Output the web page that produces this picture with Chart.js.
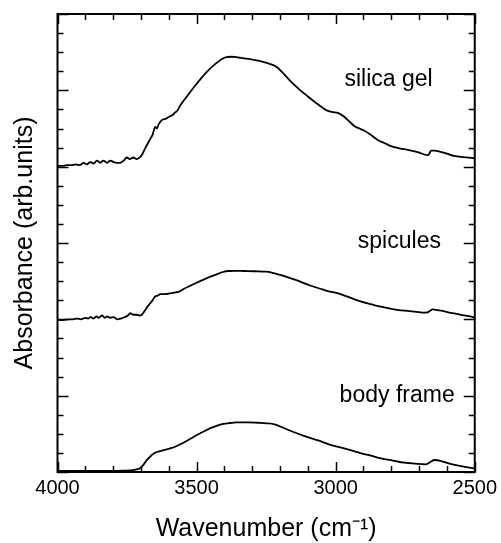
<!DOCTYPE html>
<html>
<head>
<meta charset="utf-8">
<script src="https://cdn.jsdelivr.net/npm/chart.js@4.4.1/dist/chart.umd.min.js"></script>
<style>
html, body { margin: 0; padding: 0; background: #fff; }
</style>
</head>
<body>
<canvas id="myChart" width="501" height="543"></canvas>
<script>
// wavenumber (cm-1) and absorbance (curves are offset by the plot itself)
const silicaWn = [
  4000, 3985, 3966, 3950, 3935, 3920, 3906, 3895, 3882, 3870,
  3858, 3846, 3835, 3822, 3810, 3798, 3786, 3775, 3762, 3751,
  3740, 3728, 3715, 3705, 3697, 3685, 3676, 3667, 3658, 3649,
  3643, 3637, 3625, 3610, 3595, 3585, 3577, 3568, 3559, 3535,
  3499, 3464, 3428, 3398, 3375, 3350, 3330, 3308, 3280, 3248,
  3213, 3190, 3160, 3130, 3100, 3065, 3028, 3010, 2992, 2968,
  2950, 2932, 2915, 2897, 2875, 2849, 2825, 2801, 2770, 2741,
  2705, 2669, 2662, 2657, 2645, 2633, 2600, 2574, 2540, 2500
];
const silicaAbs = [
  4.01, 4.01, 4.02, 4.02, 4.03, 4.02, 4.05, 4.03, 4.06, 4.04,
  4.08, 4.05, 4.08, 4.05, 4.08, 4.06, 4.05, 4.05, 4.08, 4.12,
  4.10, 4.12, 4.10, 4.12, 4.15, 4.24, 4.30, 4.36, 4.42, 4.52,
  4.50, 4.55, 4.61, 4.63, 4.66, 4.68, 4.71, 4.74, 4.80, 4.92,
  5.09, 5.24, 5.36, 5.43, 5.44, 5.43, 5.42, 5.41, 5.39, 5.36,
  5.31, 5.23, 5.11, 5.01, 4.92, 4.82, 4.73, 4.715, 4.705, 4.65,
  4.59, 4.53, 4.50, 4.47, 4.42, 4.35, 4.31, 4.27, 4.24, 4.22,
  4.19, 4.15, 4.18, 4.21, 4.21, 4.205, 4.17, 4.14, 4.125, 4.11
];

const spiculesWn = [
  4000, 3980, 3960, 3945, 3930, 3915, 3900, 3890, 3882, 3870,
  3860, 3852, 3840, 3830, 3822, 3810, 3798, 3786, 3772, 3757,
  3747, 3739, 3727, 3715, 3705, 3697, 3685, 3676, 3667, 3658,
  3649, 3640, 3631, 3615, 3595, 3580, 3565, 3545, 3523, 3500,
  3475, 3450, 3428, 3405, 3386, 3360, 3332, 3290, 3248, 3220,
  3180, 3136, 3090, 3040, 3010, 2980, 2945, 2908, 2870, 2837,
  2795, 2753, 2715, 2675, 2665, 2651, 2640, 2621, 2580, 2545, 2513, 2500
];
const spiculesAbs = [
  1.99, 1.99, 2.00, 2.00, 2.01, 2.00, 2.02, 2.01, 2.03, 2.01,
  2.04, 2.02, 2.05, 2.02, 2.04, 2.02, 2.03, 2.00, 2.01, 2.03,
  2.05, 2.08, 2.06, 2.06, 2.05, 2.06, 2.12, 2.17, 2.21, 2.25,
  2.30, 2.31, 2.33, 2.33, 2.34, 2.35, 2.36, 2.40, 2.44, 2.48,
  2.52, 2.56, 2.59, 2.62, 2.633, 2.635, 2.633, 2.63, 2.624, 2.603,
  2.56, 2.506, 2.44, 2.384, 2.355, 2.328, 2.28, 2.231, 2.195, 2.165,
  2.135, 2.113, 2.10, 2.087, 2.10, 2.131, 2.125, 2.113, 2.08, 2.055, 2.034, 2.021
];

const bodyWn = [
  4000, 3950, 3906, 3850, 3800, 3762, 3740, 3715, 3705, 3697,
  3688, 3679, 3670, 3661, 3652, 3643, 3625, 3607, 3590, 3577,
  3560, 3547, 3525, 3499, 3475, 3452, 3428, 3404, 3380, 3356,
  3314, 3280, 3248, 3220, 3170, 3112, 3060, 3016, 2960, 2908,
  2870, 2837, 2795, 2753, 2715, 2675, 2660, 2645, 2621, 2580, 2540, 2502
];
const bodyAbs = [
  0.013, 0.013, 0.013, 0.015, 0.014, 0.017, 0.02, 0.035, 0.045, 0.069,
  0.11, 0.157, 0.19, 0.222, 0.245, 0.262, 0.28, 0.297, 0.315, 0.331,
  0.36, 0.384, 0.43, 0.484, 0.53, 0.572, 0.605, 0.629, 0.642, 0.651,
  0.651, 0.645, 0.638, 0.625, 0.55, 0.471, 0.41, 0.353, 0.30, 0.245,
  0.21, 0.179, 0.15, 0.122, 0.11, 0.101, 0.13, 0.157, 0.144, 0.10, 0.07, 0.048
];

// curve labels: text, wavenumber of text centre, absorbance of text baseline
const labelText = ['silica gel', 'spicules', 'body frame'];
const labelWn = [2810, 2771, 2779];
const labelAbs = [5.06, 2.93, 0.92];

// axis ranges / tick steps
const xMin = 2500, xMax = 4000, xMajor = 500, xMinor = 100;
const yMin = 0, yMax = 6, yMajor = 1, yMinor = 0.25;

const fontFamily = '"Liberation Sans", Arial, Helvetica, sans-serif';

function toPoints(wn, abs) {
  return wn.map((w, i) => ({ x: w, y: abs[i] }));
}

// box around the plot, inward ticks on all four sides, curve labels
const framePlugin = {
  id: 'frame',
  afterDraw(chart) {
    const ctx = chart.ctx;
    const a = chart.chartArea;
    const x = chart.scales.x;
    const y = chart.scales.y;
    ctx.save();
    ctx.strokeStyle = '#000';
    ctx.lineWidth = 2;
    ctx.strokeRect(a.left, a.top, a.right - a.left, a.bottom - a.top);

    ctx.lineWidth = 1.5;
    ctx.beginPath();
    const nx = Math.round((xMax - xMin) / xMinor);
    for (let i = 0; i <= nx; i++) {
      const v = xMin + i * xMinor;
      const px = Math.round(x.getPixelForValue(v)) + 0.5;
      const len = (v % xMajor === 0) ? 10 : 6;
      ctx.moveTo(px, a.bottom); ctx.lineTo(px, a.bottom - len);
      ctx.moveTo(px, a.top); ctx.lineTo(px, a.top + len);
    }
    const ny = Math.round((yMax - yMin) / yMinor);
    for (let i = 0; i <= ny; i++) {
      const v = yMin + i * yMinor;
      const py = Math.round(y.getPixelForValue(v)) + 0.5;
      const len = (i % Math.round(yMajor / yMinor) === 0) ? 11 : 6;
      ctx.moveTo(a.left, py); ctx.lineTo(a.left + len, py);
      ctx.moveTo(a.right, py); ctx.lineTo(a.right - len, py);
    }
    ctx.stroke();

    ctx.fillStyle = '#000';
    ctx.font = '23px ' + fontFamily;
    ctx.textAlign = 'center';
    ctx.textBaseline = 'alphabetic';
    labelText.forEach((t, i) => {
      ctx.fillText(t, x.getPixelForValue(labelWn[i]), y.getPixelForValue(labelAbs[i]));
    });
    ctx.restore();
  }
};

const lineStyle = {
  borderColor: '#000',
  borderWidth: 1.8,
  pointRadius: 0,
  fill: false,
  cubicInterpolationMode: 'monotone'
};

const ctx = document.getElementById('myChart').getContext('2d');

const myChart = new Chart(ctx, {
  type: 'line',
  data: {
    datasets: [
      Object.assign({ label: 'silica gel', data: toPoints(silicaWn, silicaAbs) }, lineStyle),
      Object.assign({ label: 'spicules', data: toPoints(spiculesWn, spiculesAbs) }, lineStyle),
      Object.assign({ label: 'body frame', data: toPoints(bodyWn, bodyAbs) }, lineStyle)
    ]
  },
  options: {
    responsive: false,
    animation: false,
    layout: {
      padding: { top: 14, right: 25.5, left: 0, bottom: 0 }
    },
    plugins: {
      legend: { display: false },
      tooltip: { enabled: false }
    },
    scales: {
      x: {
        type: 'linear',
        reverse: true,
        min: xMin,
        max: xMax,
        grid: { display: false, drawTicks: false },
        border: { display: false },
        ticks: {
          stepSize: xMajor,
          color: '#000',
          padding: 4,
          maxRotation: 0,
          font: { size: 20, family: fontFamily },
          callback: (v) => String(v)
        },
        title: {
          display: true,
          text: 'Wavenumber (cm\u207B\u00B9)',
          color: '#000',
          font: { size: 25, family: fontFamily, lineHeight: 1.0 },
          padding: { top: 13, bottom: 1 }
        }
      },
      y: {
        min: yMin,
        max: yMax,
        grid: { display: false, drawTicks: false },
        border: { display: false },
        ticks: { display: false },
        title: {
          display: true,
          text: 'Absorbance (arb.units)',
          color: '#000',
          font: { size: 25, family: fontFamily, lineHeight: 1.0 },
          padding: { top: 12.5, bottom: 20 }
        }
      }
    }
  },
  plugins: [framePlugin]
});
</script>
</body>
</html>
